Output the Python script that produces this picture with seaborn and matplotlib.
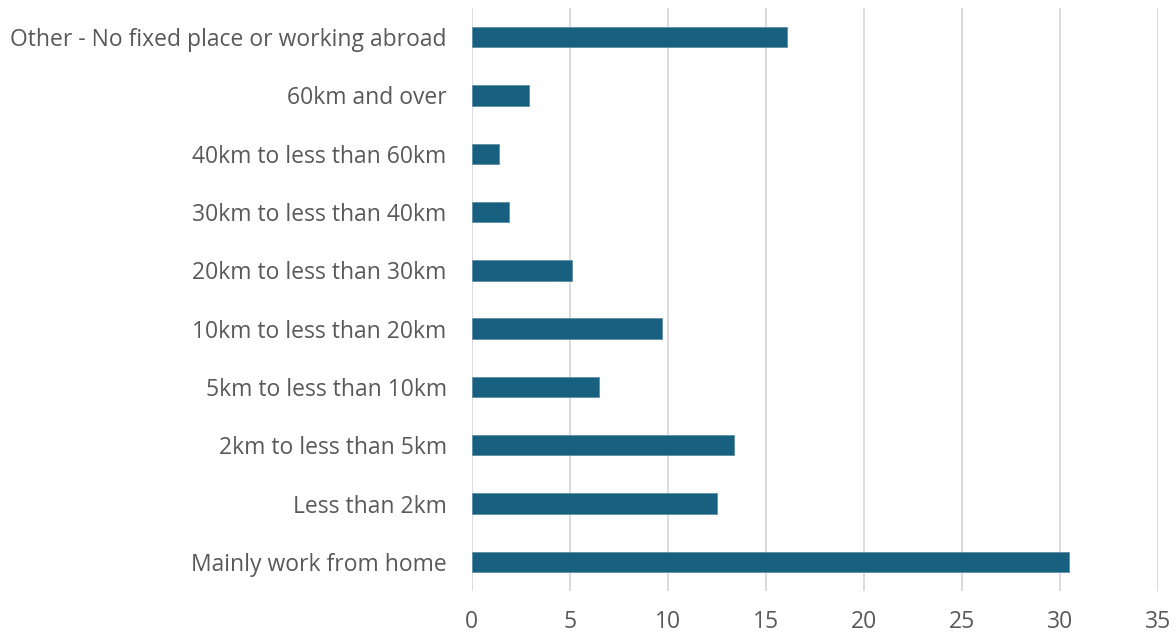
import matplotlib
matplotlib.use("Agg")
import matplotlib.pyplot as plt
import seaborn as sns
import pandas as pd

categories = [
    "Other - No fixed place or working abroad",
    "60km and over",
    "40km to less than 60km",
    "30km to less than 40km",
    "20km to less than 30km",
    "10km to less than 20km",
    "5km to less than 10km",
    "2km to less than 5km",
    "Less than 2km",
    "Mainly work from home",
]
values = [16.1, 2.9, 1.4, 1.9, 5.1, 9.7, 6.5, 13.4, 12.5, 30.5]
x_ticks = [0, 5, 10, 15, 20, 25, 30, 35]

df = pd.DataFrame({"distance": categories, "percent": values})

sns.set_theme(style="white")
plt.rcParams["font.family"] = ["Open Sans", "DejaVu Sans"]

fig = plt.figure(figsize=(11.76, 6.39), dpi=100)
ax = fig.add_axes([0.4011, 0.0751, 0.9844 - 0.4011, 0.9875 - 0.0751])

sns.barplot(data=df, x="percent", y="distance", order=categories,
            color="#17607F", saturation=1, width=0.35, orient="h", ax=ax,
            edgecolor="#5E8FA6", linewidth=0.6, zorder=3)

ax.set_xlim(0, 35)
ax.set_ylim(len(categories) - 0.5, -0.5)
ax.set_xticks(x_ticks)
ax.set_xticklabels([str(t) for t in x_ticks])
ax.xaxis.grid(True, color="#D9D9D9", linewidth=1.3, zorder=0)
ax.yaxis.grid(False)
for s in ax.spines.values():
    s.set_visible(False)
ax.set_xlabel("")
ax.set_ylabel("")
ax.tick_params(axis="both", length=0, colors="#595959", labelsize=16.5)
ax.tick_params(axis="y", pad=18)
ax.tick_params(axis="x", pad=14)
ax.set_axisbelow(True)

fig.savefig("out.png", dpi=100)
